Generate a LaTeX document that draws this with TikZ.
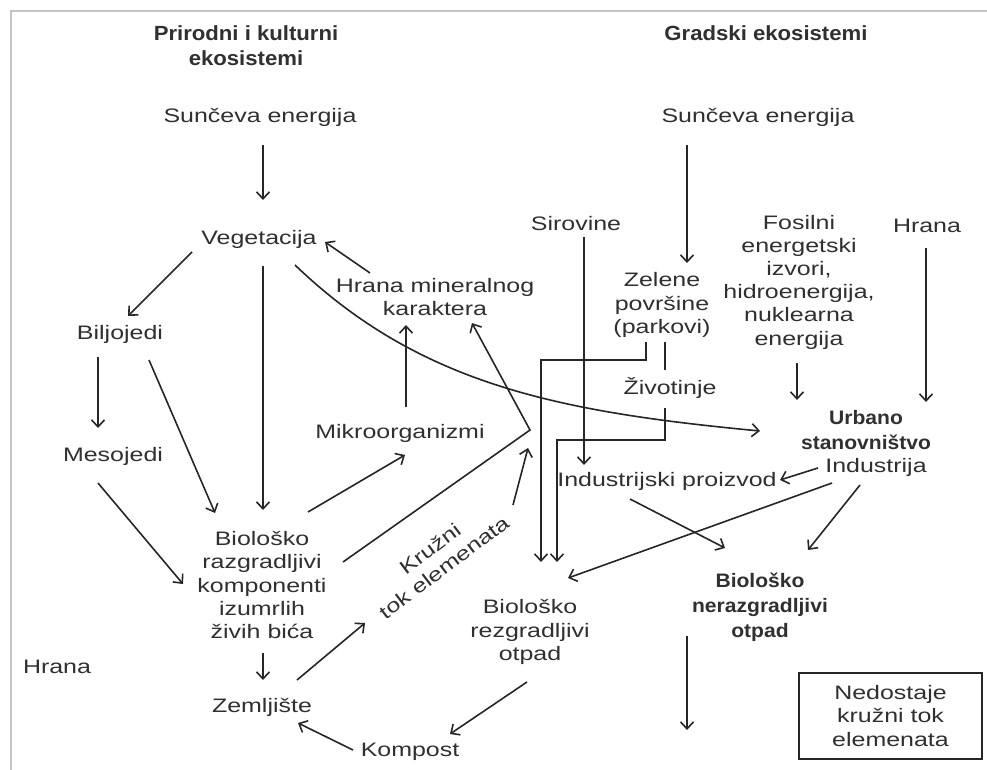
\documentclass[tikz,border=0pt]{standalone}
\usepackage{fontspec}
\setmainfont{Liberation Sans}[FakeStretch=1.28]
\newfontfamily\bfam{Liberation Sans}[FakeStretch=1.08]
\usetikzlibrary{arrows.meta}
\definecolor{txt}{HTML}{303030}
\definecolor{lncol}{HTML}{262626}
\definecolor{framecol}{HTML}{C4C4C4}
\newcommand\fsreg{\fontsize{19.5}{23.2}\selectfont}
\newcommand\fsbld{\bfam\fontsize{19.5}{25}\selectfont\bfseries}
\newcommand\fsttl{\bfam\fontsize{20.5}{25}\selectfont\bfseries}
\begin{document}
\begin{tikzpicture}[x=1pt,y=-1pt,
  lbl/.style={inner sep=0pt, align=center, font=\fsreg, text=txt},
  bld/.style={lbl, font=\fsbld},
  ttl/.style={lbl, font=\fsttl},
  conn/.style={draw=lncol, line width=1.6pt},
  arr/.style={conn, -{Straight Barb[length=7pt,width=13pt]}},
  boxed/.style={lbl, draw=lncol, line width=1.6pt, minimum width=183pt, minimum height=86pt}]
\useasboundingbox (0,0) rectangle (987,770);
\fill[white] (0,0) rectangle (987,770);
\draw[framecol, line width=2pt] (11,770) -- (11,11) -- (987,11);

% titles
\node[ttl] (t1) at (246,46) {Prirodni i kulturni\\ekosistemi};
\node[ttl] (t2) at (766,33) {Gradski ekosistemi};

% left side
\node[lbl] (sunL) at (260,117) {Sunčeva energija};
\node[lbl] (veg) at (259,239) {Vegetacija};
\node[lbl] (bilj) at (120,334) {Biljojedi};
\node[lbl] (mes) at (113,456) {Mesojedi};
\node[lbl] (bio) at (262,585) {Biološko\\razgradljivi\\komponenti\\izumrlih\\živih bića};
\node[lbl] (hranaL) at (57,667) {Hrana};
\node[lbl] (zem) at (262,707) {Zemljište};
\node[lbl] (komp) at (410,752) {Kompost};
\node[lbl] (mikro) at (400,433) {Mikroorganizmi};
\node[lbl] (hmk) at (435,297) {Hrana mineralnog\\karaktera};
\node[lbl, rotate=37] (kru) at (437,558) {Kružni\\tok elemenata};

% right side
\node[lbl] (sunR) at (758,117) {Sunčeva energija};
\node[lbl] (sir) at (576,224) {Sirovine};
\node[lbl] (zel) at (662,305) {Zelene\\površine\\(parkovi)};
\node[lbl] (fos) at (799,282) {Fosilni\\energetski\\izvori,\\hidroenergija,\\nuklearna\\energija};
\node[lbl] (hranaR) at (927,226) {Hrana};
\node[lbl] (ziv) at (670,388) {Životinje};
\node[bld] (urb) at (866,430) {Urbano\\stanovništvo};
\node[lbl] (ind) at (876,467) {Industrija};
\node[lbl] (ip) at (667,481) {Industrijski proizvod};
\node[bld] (bnr) at (760,607) {Biološko\\nerazgradljivi\\otpad};
\node[lbl] (brz) at (530,632) {Biološko\\rezgradljivi\\otpad};
\node[boxed] (box) at (890.5,716) {Nedostaje\\kružni tok\\elemenata};

% connector end points
\coordinate (sunL-s) at (263,145); \coordinate (veg-n) at (263,200);
\coordinate (veg-sw) at (192,252); \coordinate (bilj-ne) at (128,316);
\coordinate (bilj-s) at (98,357); \coordinate (mes-n) at (98,428);
\coordinate (bilj-se) at (149,360); \coordinate (bio-nw) at (215,513);
\coordinate (veg-s) at (263,266); \coordinate (bio-n) at (263,510);
\coordinate (mes-s) at (98,483); \coordinate (bio-w) at (183,584);
\coordinate (bio-ne) at (308,512); \coordinate (mikro-sw) at (405,455);
\coordinate (mikro-n) at (406,407); \coordinate (hmk-s) at (406,325);
\coordinate (hmk-nw) at (370,273); \coordinate (veg-e) at (325,242);
\coordinate (bio-e) at (343,562); \coordinate (vtx) at (530,430); \coordinate (hmk-se) at (472,323);
\coordinate (zem-ne) at (297,680); \coordinate (kru-sw) at (365,623);
\coordinate (kru-ne) at (513,505); \coordinate (vtx-b) at (528,448);
\coordinate (bio-s) at (263,653); \coordinate (zem-n) at (263,680);
\coordinate (komp-w) at (353,750); \coordinate (zem-e) at (298,723);
\coordinate (brz-s) at (527,682); \coordinate (komp-ne) at (450,734);
\coordinate (veg-se) at (295,265); \coordinate (urb-w) at (760,431);
\coordinate (sunR-s) at (687,145); \coordinate (zel-n) at (687,263);
\coordinate (sir-s) at (584,237); \coordinate (ip-n) at (584,465);
\coordinate (zel-s1) at (646,342); \coordinate (brz-n1) at (541,562);
\coordinate (zel-s2) at (665,342); \coordinate (ziv-n) at (665,370);
\coordinate (ziv-s) at (665,408); \coordinate (brz-n2) at (557,562);
\coordinate (fos-s) at (797,363); \coordinate (urb-n1) at (797,400);
\coordinate (hranaR-s) at (926,248); \coordinate (urb-n2) at (926,402);
\coordinate (ind-w) at (818,468); \coordinate (ip-e) at (780,480);
\coordinate (ip-s) at (630,499); \coordinate (bnr-nw) at (725,548);
\coordinate (ind-sw) at (832,483); \coordinate (brz-ne) at (568,578);
\coordinate (ind-s) at (860,485); \coordinate (bnr-ne) at (808,550);
\coordinate (bnr-s) at (687,636); \coordinate (bnr-out) at (687,730);

% connectors
\draw[arr] (sunL-s) -- (veg-n);
\draw[arr] (veg-sw) -- (bilj-ne);
\draw[arr] (bilj-s) -- (mes-n);
\draw[arr] (bilj-se) -- (bio-nw);
\draw[arr] (veg-s) -- (bio-n);
\draw[arr] (mes-s) -- (bio-w);
\draw[arr] (bio-ne) -- (mikro-sw);
\draw[arr] (mikro-n) -- (hmk-s);
\draw[arr] (hmk-nw) -- (veg-e);
\draw[arr] (bio-e) -- (vtx) -- (hmk-se);
\draw[arr] (zem-ne) -- (kru-sw);
\draw[arr] (kru-ne) -- (vtx-b);
\draw[arr] (bio-s) -- (zem-n);
\draw[arr] (komp-w) -- (zem-e);
\draw[arr] (brz-s) -- (komp-ne);
\draw[arr] (veg-se) .. controls (420,385) and (560,412) .. (urb-w);
\draw[arr] (sunR-s) -- (zel-n);
\draw[arr] (sir-s) -- (ip-n);
\draw[arr] (zel-s1) |- (541,360) -- (brz-n1);
\draw[conn] (zel-s2) -- (ziv-n);
\draw[arr] (ziv-s) |- (557,440) -- (brz-n2);
\draw[arr] (fos-s) -- (urb-n1);
\draw[arr] (hranaR-s) -- (urb-n2);
\draw[arr] (ind-w) -- (ip-e);
\draw[arr] (ip-s) -- (bnr-nw);
\draw[arr] (ind-sw) -- (brz-ne);
\draw[arr] (ind-s) -- (bnr-ne);
\draw[arr] (bnr-s) -- (bnr-out);
\end{tikzpicture}
\end{document}
